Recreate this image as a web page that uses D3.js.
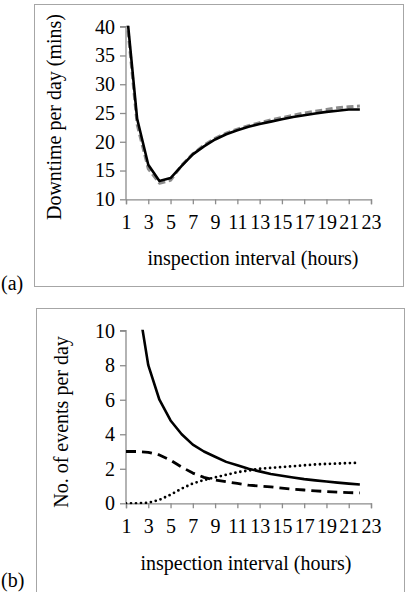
<!DOCTYPE html>
<html>
<head>
<meta charset="utf-8">
<script src="https://d3js.org/d3.v7.min.js"></script>
<style>
body { margin: 0; background: #fff; }
svg { display: block; }
text { font-family: 'Liberation Serif', 'Times New Roman', serif; fill: #000; }
</style>
</head>
<body>
<svg id="chart" width="408" height="592"></svg>
<script>

// inspection interval (hours)
var hours = [1, 2, 3, 4, 5, 6, 7, 8, 9, 10, 11, 12, 13, 14, 15, 16, 17, 18, 19, 20, 21, 22];
var xTicks = [1, 3, 5, 7, 9, 11, 13, 15, 17, 19, 21, 23];

// panel (a): downtime per day (mins)
var downtimeSolid = [44, 24, 16, 13.2, 13.7, 15.8, 17.8, 19.2, 20.4, 21.3, 22.0, 22.6, 23.1, 23.5, 23.9, 24.3, 24.6, 24.9, 25.2, 25.4, 25.6, 25.6];
var downtimeGrey  = [43, 23, 15.3, 12.8, 13.3, 15.9, 17.9, 19.4, 20.6, 21.5, 22.2, 22.8, 23.3, 23.8, 24.2, 24.6, 25.0, 25.3, 25.6, 25.9, 26.1, 26.2];
var aTicks = [10, 15, 20, 25, 30, 35, 40];

// panel (b): no. of events per day
var eventsSolid  = [24, 12, 8, 6, 4.8, 4.0, 3.4, 3.0, 2.7, 2.4, 2.2, 2.0, 1.85, 1.7, 1.6, 1.5, 1.4, 1.33, 1.26, 1.2, 1.14, 1.09];
var eventsDashed = [3.0, 3.0, 2.95, 2.8, 2.5, 2.1, 1.75, 1.5, 1.35, 1.25, 1.15, 1.05, 1.0, 0.95, 0.88, 0.82, 0.77, 0.72, 0.68, 0.65, 0.62, 0.6];
var eventsDotted = [0, 0, 0.03, 0.2, 0.5, 0.85, 1.15, 1.35, 1.5, 1.65, 1.8, 1.9, 2.0, 2.05, 2.1, 2.15, 2.2, 2.25, 2.28, 2.3, 2.33, 2.35];
var bTicks = [0, 2, 4, 6, 8, 10];

var svg = d3.select('#chart');
var fontSize = 20;

function drawPanel(o) {
	var g = svg.append('g');

	// outer frame
	g.append('rect')
		.attr('x', o.frame[0] + 0.5).attr('y', o.frame[1] + 0.5)
		.attr('width', o.frame[2] - o.frame[0]).attr('height', o.frame[3] - o.frame[1])
		.attr('fill', 'none').attr('stroke', '#a6a6a6').attr('stroke-width', 1);

	var x = d3.scaleLinear().domain([1, 23]).range([126, 371]);
	var y = d3.scaleLinear().domain(o.yDomain).range([o.yBottom, o.yTop]);

	var clipId = 'clip' + o.label;
	g.append('clipPath').attr('id', clipId)
		.append('rect')
		.attr('x', x(1)).attr('y', o.yTop - 1)
		.attr('width', x(23) - x(1)).attr('height', o.yBottom - o.yTop + 2);

	// axes
	var xAxis = d3.axisBottom(x).tickValues(xTicks).tickSize(5).tickPadding(11);
	var yAxis = d3.axisLeft(y).tickValues(o.yTicks).tickSize(6).tickPadding(5);

	var gx = g.append('g').attr('transform', 'translate(0,' + o.yBottom + ')').call(xAxis);
	var gy = g.append('g').attr('transform', 'translate(' + x(1) + ',0)').call(yAxis);

	[gx, gy].forEach(function(a) {
		a.select('.domain').attr('stroke', '#8c8c8c').attr('stroke-width', 1.3);
		a.selectAll('.tick line').attr('stroke', '#8c8c8c').attr('stroke-width', 1.3);
		a.selectAll('.tick text')
			.attr('font-family', "'Liberation Serif', 'Times New Roman', serif")
			.attr('font-size', fontSize).attr('fill', '#000');
	});
	gy.select('.domain').attr('d', 'M0,' + o.yBottom + 'V' + o.yTop + 'H-6');

	// series
	var line = d3.line()
		.x(function(d, i) { return x(hours[i]); })
		.y(function(d) { return y(d); });

	var lines = g.append('g').attr('clip-path', 'url(#' + clipId + ')');
	o.series.forEach(function(s) {
		lines.append('path')
			.datum(s.values)
			.attr('d', line)
			.attr('fill', 'none')
			.attr('stroke', s.color)
			.attr('stroke-width', s.width)
			.attr('stroke-dasharray', s.dash)
			.attr('stroke-linecap', s.cap || 'butt')
			.attr('stroke-linejoin', 'round');
	});

	// titles
	g.append('text')
		.attr('transform', 'translate(' + o.yTitleX + ',' + o.yTitleY + ') rotate(-90)')
		.attr('text-anchor', 'middle')
		.attr('font-size', fontSize)
		.text(o.yTitle);

	g.append('text')
		.attr('x', o.xTitleX).attr('y', o.xTitleY)
		.attr('text-anchor', 'middle')
		.attr('font-size', fontSize)
		.text('inspection interval (hours)');

	g.append('text')
		.attr('x', 1).attr('y', o.labelY)
		.attr('font-size', fontSize)
		.text('(' + o.label + ')');
}

drawPanel({
	label: 'a',
	frame: [34, 4, 403, 286],
	yDomain: [10, 40], yTicks: aTicks,
	yBottom: 199.3, yTop: 26.7,
	yTitle: 'Downtime per day (mins)', yTitleX: 61, yTitleY: 117,
	xTitleX: 253, xTitleY: 265,
	labelY: 290,
	series: [
		{ values: downtimeGrey, color: '#8c8c8c', width: 3, dash: '7,3.5' },
		{ values: downtimeSolid, color: '#000', width: 2.6, dash: null }
	]
});

drawPanel({
	label: 'b',
	frame: [36, 308, 404, 600],
	yDomain: [0, 10], yTicks: bTicks,
	yBottom: 503.3, yTop: 330.7,
	yTitle: 'No. of events per day', yTitleX: 68, yTitleY: 422,
	xTitleX: 246, xTitleY: 570,
	labelY: 587,
	series: [
		{ values: eventsSolid, color: '#000', width: 2.6, dash: null },
		{ values: eventsDashed, color: '#000', width: 2.8, dash: '10,6' },
		{ values: eventsDotted, color: '#000', width: 2.8, dash: '0,5', cap: 'round' }
	]
});

</script>
</body>
</html>
